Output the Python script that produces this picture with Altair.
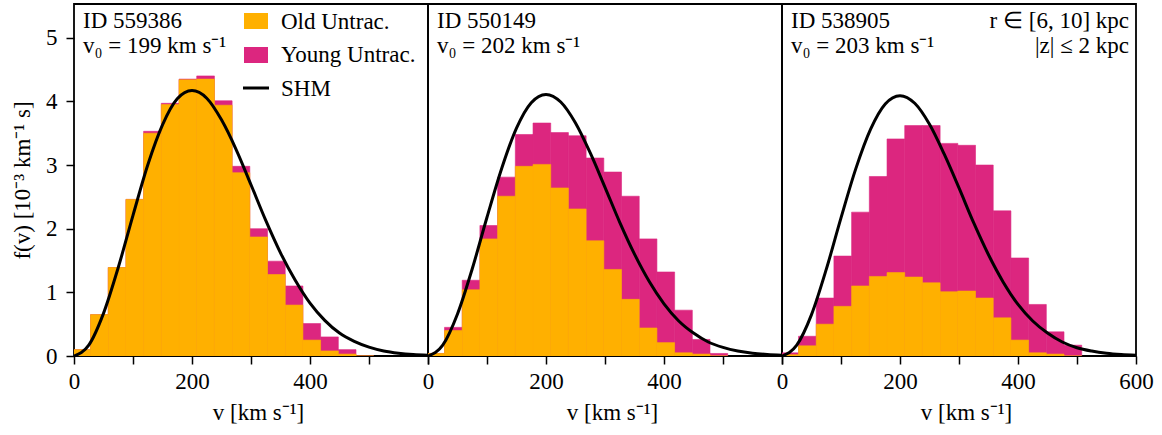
import altair as alt
import pandas as pd

ORANGE = "#FFB000"
MAGENTA = "#DC267F"
FONT = "Liberation Serif"
FS = 23

# histogram bins (km/s)
bin_lo = [-2, 28, 58, 88, 118, 148, 178, 208, 238, 268, 298, 328, 358, 388, 418, 448, 478]
bin_hi = [28, 58, 88, 118, 148, 178, 208, 238, 268, 298, 328, 358, 388, 418, 448, 478, 508]

ids = ["ID 559386", "ID 550149", "ID 538905"]
v0_text = ["v₀ = 199 km s⁻¹", "v₀ = 202 km s⁻¹", "v₀ = 203 km s⁻¹"]

old_1 = [0.10, 0.65, 1.39, 2.46, 3.50, 3.95, 4.34, 4.35, 3.94, 2.88, 1.87, 1.28, 0.80, 0.25, 0.08, 0.03, 0.00]
young_1 = [0.00, 0.00, 0.00, 0.00, 0.03, 0.02, 0.01, 0.05, 0.07, 0.10, 0.13, 0.21, 0.30, 0.26, 0.22, 0.07, 0.00]

old_2 = [0.04, 0.40, 1.04, 1.84, 2.51, 2.98, 3.01, 2.64, 2.31, 1.81, 1.36, 0.89, 0.44, 0.21, 0.05, 0.03, 0.00]
young_2 = [0.00, 0.05, 0.15, 0.21, 0.30, 0.50, 0.65, 0.87, 1.15, 1.30, 1.53, 1.62, 1.40, 1.11, 0.67, 0.23, 0.04]

old_3 = [0.02, 0.16, 0.50, 0.78, 1.10, 1.25, 1.31, 1.24, 1.15, 1.01, 1.02, 0.91, 0.60, 0.25, 0.05, 0.03, 0.00]
young_3 = [0.03, 0.15, 0.41, 0.79, 1.16, 1.57, 2.10, 2.38, 2.47, 2.33, 2.29, 2.09, 1.68, 1.29, 0.76, 0.35, 0.17]

# SHM curves
shm_v = [0, 25, 50, 75, 100, 125, 150, 175, 200, 225, 250, 275, 300, 325, 350,
         375, 400, 425, 450, 475, 500, 525, 550, 575, 600]
shm_1 = [0.00, 0.17, 0.67, 1.39, 2.21, 3.00, 3.63, 4.04, 4.17, 4.05, 3.71, 3.24, 2.69,
         2.13, 1.62, 1.19, 0.83, 0.56, 0.36, 0.23, 0.14, 0.08, 0.045, 0.024, 0.013]
shm_2 = [0.00, 0.17, 0.66, 1.37, 2.18, 2.95, 3.58, 3.98, 4.11, 3.99, 3.66, 3.19, 2.65,
         2.10, 1.60, 1.17, 0.82, 0.55, 0.36, 0.22, 0.135, 0.078, 0.044, 0.024, 0.012]
shm_3 = [0.00, 0.17, 0.65, 1.36, 2.17, 2.94, 3.56, 3.96, 4.09, 3.97, 3.64, 3.17, 2.64,
         2.09, 1.59, 1.16, 0.81, 0.55, 0.36, 0.22, 0.13, 0.078, 0.044, 0.024, 0.012]

x_ticks = [0, 100, 200, 300, 400, 500, 600]
y_ticks = [0, 1, 2, 3, 4, 5]

legend_labels = ["Old Untrac.", "Young Untrac.", "SHM"]
region_text = ["r ∈ [6, 10] kpc", "|z| ≤ 2 kpc"]

olds = [old_1, old_2, old_3]
youngs = [young_1, young_2, young_3]
shms = [shm_1, shm_2, shm_3]

W, H = 354, 352
xscale = alt.Scale(domain=[0, 600], nice=False, zero=False)
yscale = alt.Scale(domain=[0, 5.53], nice=False, zero=True)
one = pd.DataFrame({"k": [0]})


def label(text, x, y, align="left"):
    return alt.Chart(one).mark_text(text=text, font=FONT, fontSize=FS, align=align,
                                    baseline="alphabetic", color="black").encode(
        x=alt.value(x), y=alt.value(y))


def panel(i):
    bars = pd.DataFrame({"lo": bin_lo, "hi": bin_hi, "old": olds[i], "young": youngs[i]})
    bars["total"] = bars["old"] + bars["young"]
    bars["base"] = 0.0
    curve = pd.DataFrame({"v": shm_v, "f": shms[i]})

    last = i == 2
    lab_expr = ("datum.value % 200 == 0 ? datum.label : ''" if last
                else "(datum.value % 200 == 0 && datum.value < 600) ? datum.label : ''")
    xaxis = alt.Axis(values=x_ticks, labelExpr=lab_expr, title="v [km s⁻¹]",
                     titleX=184, titleAlign="center")
    if i == 0:
        yaxis = alt.Axis(values=y_ticks, title="f(v) [10⁻³ km⁻¹ s]")
    else:
        yaxis = None

    young_layer = alt.Chart(bars).mark_rect(color=MAGENTA, stroke=MAGENTA, strokeWidth=0.6,
                                            clip=True).encode(
        x=alt.X("lo:Q", scale=xscale, axis=xaxis),
        x2="hi:Q",
        y=alt.Y("total:Q", scale=yscale, axis=yaxis),
        y2="base:Q",
    )
    old_layer = alt.Chart(bars).mark_rect(color=ORANGE, stroke=ORANGE, strokeWidth=0.6,
                                          clip=True).encode(
        x=alt.X("lo:Q", scale=xscale, axis=xaxis),
        x2="hi:Q",
        y=alt.Y("old:Q", scale=yscale, axis=yaxis),
        y2="base:Q",
    )
    line = alt.Chart(curve).mark_line(color="black", strokeWidth=3,
                                      interpolate="monotone", clip=True).encode(
        x=alt.X("v:Q", scale=xscale, axis=xaxis),
        y=alt.Y("f:Q", scale=yscale, axis=yaxis),
    )
    layers = [young_layer, old_layer, line, label(ids[i], 9, 24), label(v0_text[i], 9, 49)]

    if i == 0:
        sw1 = alt.Chart(one).mark_rect(color=ORANGE).encode(
            x=alt.value(170), x2=alt.value(194), y=alt.value(9), y2=alt.value(25))
        sw2 = alt.Chart(one).mark_rect(color=MAGENTA).encode(
            x=alt.value(170), x2=alt.value(194), y=alt.value(43), y2=alt.value(59))
        sw3 = alt.Chart(one).mark_rule(color="black", strokeWidth=3).encode(
            x=alt.value(169), x2=alt.value(195), y=alt.value(84))
        layers += [sw1, sw2, sw3,
                   label(legend_labels[0], 207, 25),
                   label(legend_labels[1], 207, 58),
                   label(legend_labels[2], 207, 92)]
    if last:
        layers += [label(region_text[0], 347, 24, "right"),
                   label(region_text[1], 347, 49, "right")]

    return alt.layer(*layers).properties(width=W, height=H)


chart = alt.hconcat(panel(0), panel(1), panel(2), spacing=0, bounds="flush").properties(
    padding={"left": 10, "top": 3, "right": 5, "bottom": 5},
    background="white",
).configure_view(
    stroke="black", strokeWidth=1.8
).configure_axis(
    labelFont=FONT, labelFontSize=FS, labelColor="black",
    titleFont=FONT, titleFontSize=FS, titleFontWeight="normal", titleColor="black",
    tickSize=8, tickWidth=1.5, tickColor="black", domain=False, grid=False,
    labelPadding=6, titlePadding=8, labelFlush=False, labelOverlap=False,
).configure_axisY(labelPadding=9, titlePadding=11)

chart.save("out.html", embed_options={"renderer": "svg", "actions": False})
